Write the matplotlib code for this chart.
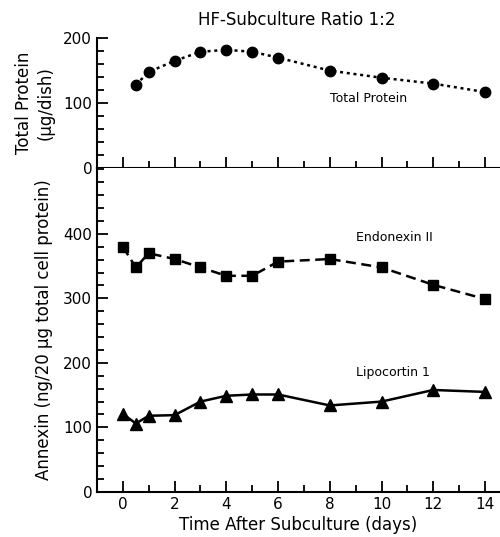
import numpy as np
import matplotlib.pyplot as plt
from matplotlib.ticker import MultipleLocator

# total protein (ug/dish)
tp_days = [0.5, 1, 2, 3, 4, 5, 6, 8, 10, 12, 14]
tp_vals = [128, 148, 165, 179, 182, 179, 170, 150, 139, 130, 117]

# annexins (ng / 20 ug total cell protein)
ax_days = [0, 0.5, 1, 2, 3, 4, 5, 6, 8, 10, 12, 14]
endonexin = [380, 348, 370, 361, 348, 335, 335, 357, 361, 348, 321, 299]
lipocortin = [121, 106, 118, 119, 140, 149, 151, 151, 134, 140, 158, 155]

plt.rcParams['font.family'] = 'DejaVu Sans'

fig = plt.figure(figsize=(5, 5.37), dpi=100)
top = fig.add_axes([0.194, 0.687, 0.806, 0.242])
bot = fig.add_axes([0.194, 0.084, 0.806, 0.603])

for a in (top, bot):
    a.spines['top'].set_visible(False)
    a.spines['right'].set_visible(False)
    a.spines['left'].set_linewidth(1.5)
    a.spines['bottom'].set_linewidth(1.5)
    a.set_xlim(-1.0, 14.58)
    a.xaxis.set_major_locator(MultipleLocator(2))
    a.xaxis.set_minor_locator(MultipleLocator(1))
    a.yaxis.set_minor_locator(MultipleLocator(20))
    a.yaxis.set_major_locator(MultipleLocator(100))
    a.tick_params(which='both', direction='in', width=1.3, labelsize=11)
    a.tick_params(which='major', length=8)
    a.tick_params(which='minor', length=5)

top.plot(tp_days, tp_vals, color='black', linestyle=(0, (1.2, 1.5)), lw=1.8,
         marker='o', markersize=7.5)
top.set_ylim(0, 200)
top.tick_params(axis='x', labelbottom=False)
top.set_ylabel('Total Protein\n(μg/dish)', fontsize=12, linespacing=1.3, labelpad=6)
top.text(8.0, 107, 'Total Protein', fontsize=9, va='center')

bot.plot(ax_days, endonexin, color='black', linestyle=(0, (4, 2.2)), lw=1.8,
         marker='s', markersize=7)
bot.plot(ax_days, lipocortin, color='black', linestyle='-', lw=1.8,
         marker='^', markersize=8)
bot.set_ylim(0, 502)
bot.set_yticks([0, 100, 200, 300, 400])
bot.text(9.0, 395, 'Endonexin II', fontsize=9, va='center')
bot.text(9.0, 185, 'Lipocortin 1', fontsize=9, va='center')
bot.set_ylabel('Annexin (ng/20 μg total cell protein)', fontsize=12, labelpad=7)
bot.set_xlabel('Time After Subculture (days)', fontsize=12, labelpad=3)

fig.text(0.594, 0.962, 'HF-Subculture Ratio 1:2', ha='center', va='center', fontsize=12)

fig.savefig('out.png', dpi=100)
